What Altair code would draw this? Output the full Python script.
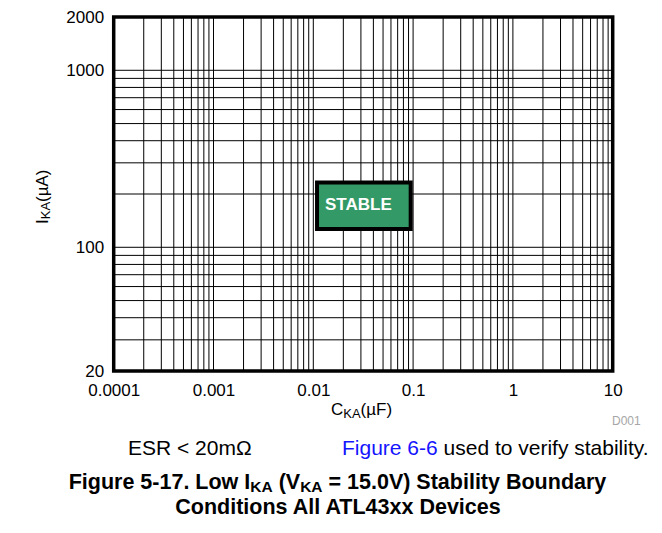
import altair as alt
import pandas as pd

# ---------------- data ----------------
x_domain = [0.0001, 10]
y_domain = [20, 2000]
x_ticks = [0.0001, 0.001, 0.01, 0.1, 1, 10]
y_ticks = [20, 100, 1000, 2000]
x_grid = [0.0002, 0.0003, 0.0004, 0.0005, 0.0006, 0.0007, 0.0008, 0.0009,
          0.001, 0.002, 0.003, 0.004, 0.005, 0.006, 0.007, 0.008, 0.009,
          0.01, 0.02, 0.03, 0.04, 0.05, 0.06, 0.07, 0.08, 0.09,
          0.1, 0.2, 0.3, 0.4, 0.5, 0.6, 0.7, 0.8, 0.9,
          1, 2, 3, 4, 5, 6, 7, 8, 9]
y_grid = [30, 40, 50, 60, 70, 80, 90, 100,
          200, 300, 400, 500, 600, 700, 800, 900, 1000]
stable_box_x = [0.0109, 0.0946]
stable_box_y = [127, 232]
stable_label = "STABLE"
stable_label_pos = [0.0283, 173]

# ---------------- layout ----------------
W, H = 499, 354
OX, OY = 113.7, 17.0          # page position of the plot area
FONT = "Liberation Sans"

REG = {" ": 278, "(": 333, ")": 333, "<": 584, "-": 333, ".": 278, "=": 584,
       "A": 667, "C": 722, "E": 667, "F": 611, "I": 278, "K": 667, "R": 722,
       "S": 667, "µ": 576, "Ω": 768, "m": 833, "i": 222, "g": 556, "u": 556,
       "r": 333, "e": 556}
BOLD = {" ": 278, "(": 333, ")": 333, "-": 333, ".": 278, "=": 584,
        "A": 722, "B": 722, "C": 722, "D": 722, "F": 611, "I": 278, "K": 722,
        "L": 611, "S": 667, "T": 611, "V": 667, "a": 556, "b": 611, "c": 556,
        "d": 611, "e": 556, "g": 611, "i": 278, "l": 278, "n": 611, "o": 611,
        "r": 389, "s": 556, "t": 333, "u": 611, "v": 556, "w": 778, "x": 556,
        "y": 556}


def tw(s, size, bold=False):
    table = BOLD if bold else REG
    return sum(table.get(c, 556) for c in s) * size / 1000.0


one = pd.DataFrame({"k": [0]})


def txt(s, xp, yp, size, bold=False, color="black", align="left", angle=None):
    # leading spaces collapse in SVG: move the anchor instead
    stripped = s.lstrip(" ")
    xp = xp + tw(s[: len(s) - len(stripped)], size, bold)
    kw = dict(text=stripped, fontSize=size, font=FONT,
              fontWeight="bold" if bold else "normal",
              color=color, align=align, baseline="alphabetic")
    if angle is not None:
        kw["angle"] = angle
    return alt.Chart(one).mark_text(**kw).encode(
        x=alt.value(xp - OX), y=alt.value(yp - OY))


xscale = alt.Scale(type="log", domain=x_domain, nice=False)
yscale = alt.Scale(type="log", domain=y_domain, nice=False)
xaxis = alt.Axis(values=x_ticks, format="~g", title=None, grid=False,
                 ticks=False, domain=False, labelFont=FONT, labelFontSize=17,
                 labelColor="black", labelPadding=11, labelFlush=False)
yaxis = alt.Axis(values=y_ticks, format="~g", title=None, grid=False,
                 ticks=False, domain=False, labelFont=FONT, labelFontSize=17,
                 labelColor="black", labelPadding=10, labelFlush=False)

vgrid = alt.Chart(pd.DataFrame({"x": x_grid})).mark_rule(
    color="black", strokeWidth=1).encode(
    x=alt.X("x:Q", scale=xscale, axis=xaxis))
hgrid = alt.Chart(pd.DataFrame({"y": y_grid})).mark_rule(
    color="black", strokeWidth=1).encode(
    y=alt.Y("y:Q", scale=yscale, axis=yaxis))

box_df = pd.DataFrame({"x1": [stable_box_x[0]], "x2": [stable_box_x[1]],
                       "y1": [stable_box_y[0]], "y2": [stable_box_y[1]]})
box = alt.Chart(box_df).mark_rect(fill="#339966", stroke="black",
                                  strokeWidth=4).encode(
    x=alt.X("x1:Q", scale=xscale, axis=xaxis), x2="x2:Q",
    y=alt.Y("y1:Q", scale=yscale, axis=yaxis), y2="y2:Q")

lab_df = pd.DataFrame({"x": [stable_label_pos[0]], "y": [stable_label_pos[1]],
                       "t": [stable_label]})
lab = alt.Chart(lab_df).mark_text(font=FONT, fontSize=17, fontWeight="bold",
                                  color="white", baseline="middle",
                                  align="center").encode(
    x=alt.X("x:Q", scale=xscale, axis=xaxis),
    y=alt.Y("y:Q", scale=yscale, axis=yaxis), text="t:N")

layers = [vgrid, hgrid, box, lab]

# x axis title C_KA(µF)
cx = 331.0
layers.append(txt("C", cx, 415, 17))
cx += tw("C", 17)
layers.append(txt("KA", cx, 418, 13))
cx += tw("KA", 13)
layers.append(txt("(µF)", cx, 415, 17))

# y axis title I_KA(µA), rotated
yy = 224.0
layers.append(txt("I", 47.5, yy, 17, angle=270))
yy -= tw("I", 17)
layers.append(txt("KA", 50.5, yy, 13, angle=270))
yy -= tw("KA", 13)
layers.append(txt("(µA)", 47.5, yy, 17, angle=270))

# D001
layers.append(txt("D001", 612, 425, 12, color="#a6a6a6"))

# notes line
NS = 21
layers.append(txt("ESR < 20mΩ", 128, 455, NS))
layers.append(txt("Figure 6-6", 342, 455, NS, color="#1414ff"))
layers.append(txt("used to verify stability.", 342 + tw("Figure 6-6 ", NS), 455, NS))

# caption line 1 with subscripts
CB, CS = 21.5, 15.5
pieces = [("Figure 5-17. Low I", CB, 0), ("KA", CS, 3), (" (V", CB, 0),
          ("KA", CS, 3), (" = 15.0V) Stability Boundary", CB, 0)]
total = sum(tw(s, z, True) for s, z, _ in pieces)
px = 337.5 - total / 2
for s, z, off in pieces:
    layers.append(txt(s, px, 489 + off, z, bold=True))
    px += tw(s, z, True)

# caption line 2
layers.append(txt("Conditions All ATL43xx Devices", 338, 514, CB, bold=True,
                  align="center"))

chart = alt.layer(*layers).properties(
    width=W, height=H,
    autosize=alt.AutoSizeParams(type="none"),
    padding={"left": OX - 8, "top": OY - 8, "right": 646 - (OX - 8) - W,
             "bottom": 517 - (OY - 8) - H},
).configure_view(stroke="black", strokeWidth=3.5)

chart.save("out.html", embed_options={"renderer": "svg", "actions": False})
